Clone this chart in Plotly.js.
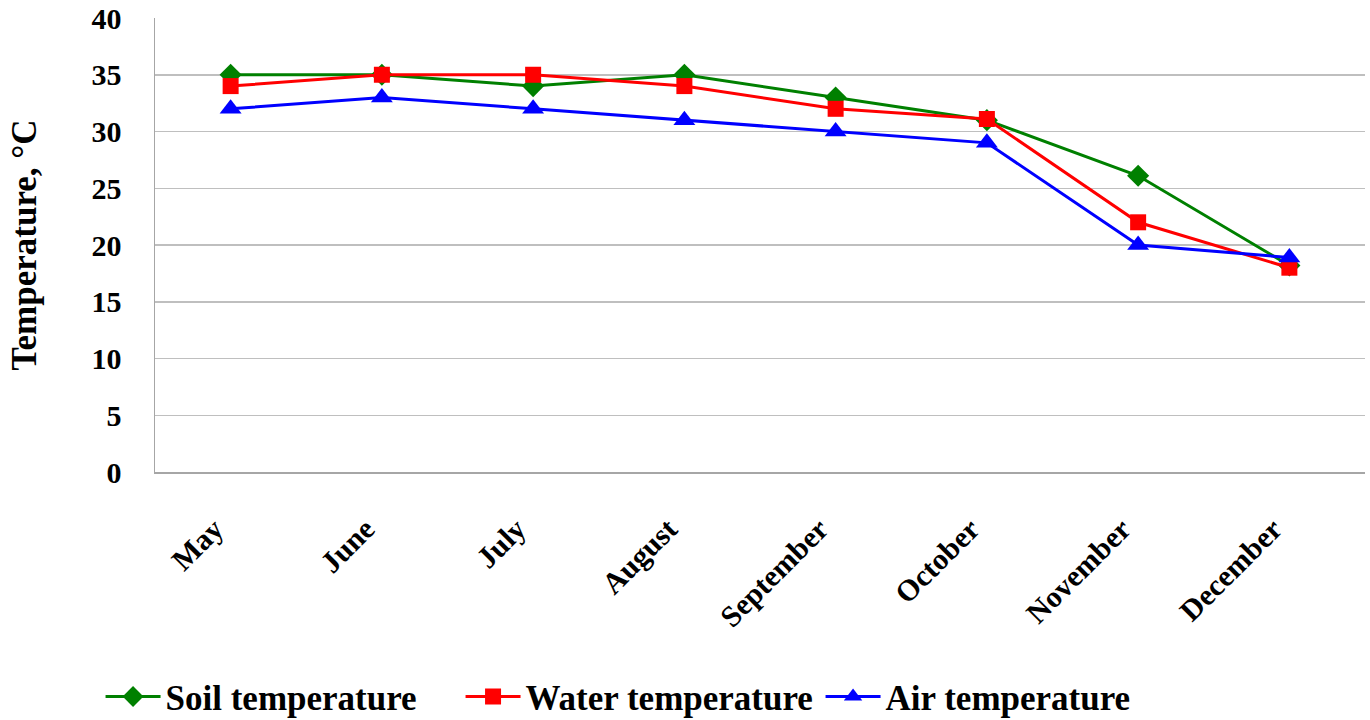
<!DOCTYPE html>
<html><head><meta charset="utf-8">
<script src="https://cdn.plot.ly/plotly-3.0.1.min.js"></script>
<style>body{margin:0;background:#fff}#c{width:1370px;height:720px}</style>
</head><body><div id="c"></div>
<script>
const months = ["May","June","July","August","September","October","November","December"];
const soil = [35, 35, 34, 35, 33, 31, 26.1, 18.2];
const water = [34, 35, 35, 34, 32, 31.1, 22, 18];
const air = [32, 33, 32, 31, 30, 29, 20, 18.9];
const yTicks = [0,5,10,15,20,25,30,35,40];

const fam = "Liberation Serif, Times New Roman, serif";
function tr(name, y, color, symbol, size){
  return {type:"scatter", mode:"lines+markers", name:name, x:months, y:y,
    line:{color:color, width:3}, marker:{color:color, symbol:symbol, size:size}};
}
const data = [
  tr("<b>Soil temperature</b>", soil, "#008000", "diamond", 17),
  tr("<b>Water temperature</b>", water, "#FF0000", "square", 16),
  tr("<b>Air temperature</b>", air, "#0000FF", "triangle-up", 19)
];
const layout = {
  width:1370, height:720,
  margin:{l:155, r:5, t:18, b:248, autoexpand:false},
  paper_bgcolor:"#fff", plot_bgcolor:"#fff",
  font:{family:fam, color:"#000", size:30},
  showlegend:true,
  legend:{orientation:"h", x:-0.045, xanchor:"left", y:-0.495, yanchor:"middle",
    font:{family:fam, size:35, color:"#000"}, itemwidth:55, entrywidth:290, entrywidthmode:"pixels",
    traceorder:"normal"},
  xaxis:{type:"category", range:[-0.5,7.5], showgrid:false, showline:true, linecolor:"#a6a6a6", linewidth:1.5,
    ticks:"", tickangle:-45, ticklabelstandoff:26, ticklabelshift:-16,
    tickvals:months, ticktext:months.map(m=>"<b>"+m+"</b>"),
    tickfont:{family:fam, size:30, color:"#000"}, zeroline:false},
  yaxis:{range:[0,40], tickvals:yTicks, ticktext:yTicks.map(v=>"<b>"+v+"</b>"),
    showgrid:true, gridcolor:"#bfbfbf", gridwidth:1.5, showline:true, linecolor:"#a6a6a6", linewidth:1.5,
    ticks:"", ticklabelstandoff:26, zeroline:false,
    tickfont:{family:fam, size:30, color:"#000"},
    title:{text:"<b>Temperature, °C</b>", font:{family:fam, size:35, color:"#000"}, standoff:44}}
};
Plotly.newPlot("c", data, layout, {displayModeBar:false, staticPlot:true});
</script></body></html>
